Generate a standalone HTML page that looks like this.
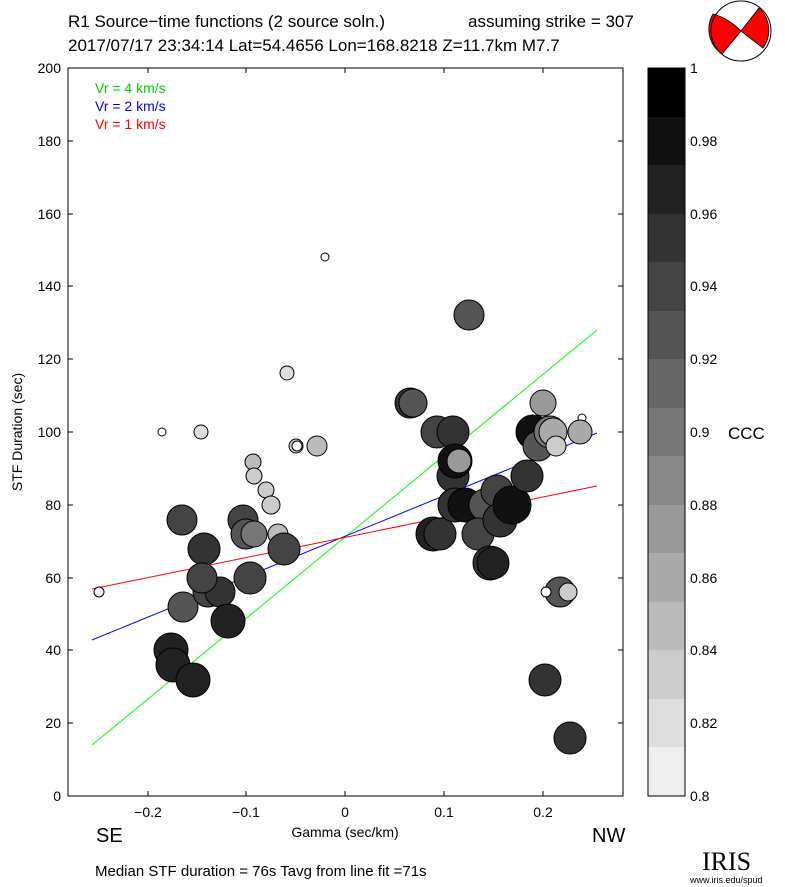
<!DOCTYPE html>
<html><head><meta charset="utf-8"><style>body{margin:0;background:#fff}svg{display:block;font-family:"Liberation Sans",sans-serif}</style></head>
<body>
<svg width="785" height="887" viewBox="0 0 785 887">
<rect width="785" height="887" fill="#fff"/>
<text x="68" y="27" font-size="17">R1 Source−time functions (2 source soln.)</text>
<text x="468" y="27" font-size="17">assuming strike = 307</text>
<text x="68" y="51" font-size="17">2017/07/17 23:34:14  Lat=54.4656 Lon=168.8218  Z=11.7km  M7.7</text>
<!-- beachball -->
<g>
<circle cx="741" cy="31" r="30" fill="#fff"/>
<path d="M741,31 Q728,18 713,14 A30,30 0 0,0 722,54 Z" fill="#f00" stroke="#000" stroke-width="0.8"/>
<path d="M741,31 L759,8 A30,30 0 0,1 763,48 Z" fill="#f00" stroke="#000" stroke-width="0.8"/>
<circle cx="741" cy="31" r="30" fill="none" stroke="#000"/>
</g>
<defs><clipPath id="c"><rect x="68" y="68" width="555" height="728"/></clipPath></defs>
<rect x="68" y="68" width="555" height="728" fill="none" stroke="#000"/>
<g font-size="14" text-anchor="end">
<text x="61" y="801">0</text><text x="61" y="728">20</text><text x="61" y="655">40</text><text x="61" y="583">60</text><text x="61" y="510">80</text><text x="61" y="437">100</text><text x="61" y="364">120</text><text x="61" y="291">140</text><text x="61" y="219">160</text><text x="61" y="146">180</text><text x="61" y="73">200</text>
</g>
<g stroke="#000">
<path d="M68,796h5M68,723h5M68,650h5M68,578h5M68,505h5M68,432h5M68,359h5M68,286h5M68,214h5M68,141h5M618,723h5M618,650h5M618,578h5M618,505h5M618,432h5M618,359h5M618,286h5M618,214h5M618,141h5M148,796v-5M246,796v-5M345,796v-5M444,796v-5M543,796v-5M148,68v5M246,68v5M345,68v5M444,68v5M543,68v5"/>
</g>
<g font-size="14" text-anchor="middle">
<text x="148" y="817">−0.2</text><text x="246" y="817">−0.1</text><text x="345" y="817">0</text><text x="444" y="817">0.1</text><text x="543" y="817">0.2</text>
<text x="345" y="837">Gamma (sec/km)</text>
</g>
<text transform="translate(22,432) rotate(-90)" font-size="14" text-anchor="middle">STF Duration (sec)</text>
<text x="96" y="842" font-size="20">SE</text><text x="592" y="842" font-size="20">NW</text>
<text x="95" y="876" font-size="15">Median STF duration = 76s    Tavg from line fit =71s</text>
<text x="95" y="93" font-size="14" fill="#0c0">Vr = 4 km/s</text>
<text x="95" y="111" font-size="14" fill="#00f">Vr = 2 km/s</text>
<text x="95" y="129" font-size="14" fill="#f00">Vr = 1 km/s</text>
<g clip-path="url(#c)" stroke="#000" stroke-width="1">
<line x1="92" y1="745" x2="597" y2="330" stroke="#0f0"/>
<line x1="92" y1="640" x2="597" y2="433" stroke="#00f"/>
<line x1="92" y1="589" x2="597" y2="486" stroke="#f00"/>
<circle cx="99" cy="592" r="5" fill="#eee"/><circle cx="162" cy="432" r="4" fill="#fff"/><circle cx="201" cy="432" r="7" fill="#ddd"/><circle cx="325" cy="257" r="4" fill="#fff"/><circle cx="287" cy="373" r="7" fill="#ddd"/><circle cx="253" cy="462" r="8" fill="#bbb"/><circle cx="254" cy="476" r="8" fill="#ccc"/><circle cx="266" cy="490" r="8" fill="#ccc"/><circle cx="271" cy="505" r="9" fill="#ccc"/><circle cx="278" cy="534" r="10" fill="#bbb"/><circle cx="296" cy="446" r="7" fill="#ccc"/><circle cx="297" cy="446" r="5" fill="#fff"/><circle cx="317" cy="446" r="10" fill="#bbb"/>
<circle cx="182" cy="520" r="15" fill="#444"/><circle cx="204" cy="549" r="16" fill="#333"/><circle cx="183" cy="607" r="15" fill="#555"/><circle cx="208" cy="592" r="15" fill="#444"/><circle cx="220" cy="592" r="15" fill="#333"/><circle cx="202" cy="578" r="15" fill="#444"/><circle cx="228" cy="621" r="17" fill="#222"/><circle cx="171" cy="650" r="17" fill="#222"/><circle cx="173" cy="665" r="17" fill="#222"/><circle cx="193" cy="680" r="17" fill="#222"/><circle cx="243" cy="520" r="15" fill="#444"/><circle cx="246" cy="534" r="15" fill="#555"/><circle cx="250" cy="578" r="16" fill="#444"/><circle cx="254" cy="534" r="13" fill="#777"/><circle cx="284" cy="549" r="16" fill="#444"/>
<circle cx="469" cy="315" r="15" fill="#555"/><circle cx="410" cy="403" r="15" fill="#333"/><circle cx="413" cy="403" r="14" fill="#555"/><circle cx="437" cy="432" r="16" fill="#444"/><circle cx="453" cy="432" r="16" fill="#333"/><circle cx="453" cy="476" r="16" fill="#333"/><circle cx="433" cy="534" r="17" fill="#222"/><circle cx="440" cy="534" r="16" fill="#333"/><circle cx="455" cy="505" r="17" fill="#333"/><circle cx="455" cy="461" r="17" fill="#111"/><circle cx="459" cy="461" r="12" fill="#999"/><circle cx="465" cy="505" r="17" fill="#111"/><circle cx="485" cy="505" r="16" fill="#555"/><circle cx="478" cy="534" r="16" fill="#444"/><circle cx="497" cy="491" r="16" fill="#444"/><circle cx="500" cy="520" r="17" fill="#333"/><circle cx="512" cy="505" r="19" fill="#111"/><circle cx="490" cy="563" r="17" fill="#333"/><circle cx="493" cy="563" r="16" fill="#222"/><circle cx="527" cy="476" r="16" fill="#333"/><circle cx="533" cy="432" r="17" fill="#111"/><circle cx="538" cy="446" r="15" fill="#555"/><circle cx="550" cy="432" r="16" fill="#777"/><circle cx="543" cy="403" r="13" fill="#999"/><circle cx="553" cy="432" r="14" fill="#aaa"/><circle cx="556" cy="446" r="10" fill="#ccc"/><circle cx="545" cy="680" r="16" fill="#333"/><circle cx="560" cy="592" r="15" fill="#555"/><circle cx="570" cy="738" r="16" fill="#333"/>
<circle cx="546" cy="592" r="5" fill="#fff"/><circle cx="568" cy="592" r="9" fill="#ccc"/><circle cx="582" cy="418" r="4" fill="#fff"/><circle cx="580" cy="432" r="12" fill="#aaa"/>
</g>
<!-- colorbar -->
<g>
<rect x="648" y="68" width="37" height="49" fill="#000"/>
<rect x="648" y="117" width="37" height="48" fill="#111"/>
<rect x="648" y="165" width="37" height="49" fill="#222"/>
<rect x="648" y="214" width="37" height="48" fill="#333"/>
<rect x="648" y="262" width="37" height="49" fill="#444"/>
<rect x="648" y="311" width="37" height="48" fill="#555"/>
<rect x="648" y="359" width="37" height="49" fill="#666"/>
<rect x="648" y="408" width="37" height="48" fill="#777"/>
<rect x="648" y="456" width="37" height="49" fill="#888"/>
<rect x="648" y="505" width="37" height="48" fill="#999"/>
<rect x="648" y="553" width="37" height="49" fill="#aaa"/>
<rect x="648" y="602" width="37" height="48" fill="#bbb"/>
<rect x="648" y="650" width="37" height="49" fill="#ccc"/>
<rect x="648" y="699" width="37" height="48" fill="#ddd"/>
<rect x="648" y="747" width="37" height="49" fill="#eee"/>
<rect x="648" y="68" width="37" height="728" fill="none" stroke="#000"/>
<g font-size="14">
<text x="690" y="73">1</text><text x="690" y="146">0.98</text><text x="690" y="219">0.96</text><text x="690" y="291">0.94</text><text x="690" y="364">0.92</text><text x="690" y="437">0.9</text><text x="690" y="510">0.88</text><text x="690" y="583">0.86</text><text x="690" y="655">0.84</text><text x="690" y="728">0.82</text><text x="690" y="801">0.8</text>
</g>
<text x="728" y="439" font-size="17">CCC</text>
</g>
<text x="702" y="870" font-size="26" font-family="Liberation Serif,serif">IRIS</text>
<text x="690" y="883" font-size="9">www.iris.edu/spud</text>
</svg>
</body></html>
